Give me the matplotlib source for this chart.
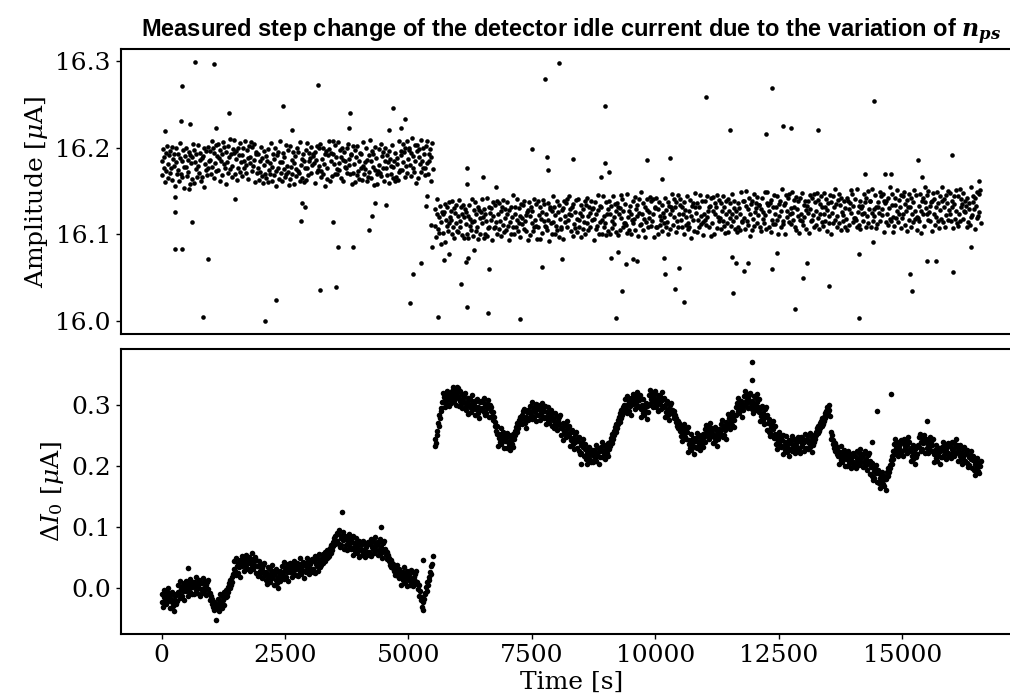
import numpy as np
import matplotlib.pyplot as plt

plt.rcParams['font.family'] = 'DejaVu Serif'
plt.rcParams['mathtext.fontset'] = 'dejavuserif'

# Sampling windows (s) before and after the n_ps step
T_BEFORE = (0, 5490)
T_AFTER = (5530, 16590)

# Pulse amplitude, in nA above 16 uA, one row = 12 consecutive samples
amp_before = [
    185, 168, 198, 177, 189, 160, 194, 173, 202, 165, 181, 191,
    171, 196, 176, 201, 163, 187, 179, 192, 156, 183, 199, 169,
    193, 174, 161, 188, 205, 170, 184, 166, 197, 178, 153, 190,
    178, 200, 167, 186, 172, 195, 158, 191, 182, 164, 189, 204,
    197, 159, 183, 192, 175, 166, 203, 179, 171, 194, 186, 162,
    166, 188, 190, 155, 199, 181, 174, 196, 168, 201, 177, 184,
    196, 186, 170, 207, 178, 199, 165, 194, 182, 203, 173, 190,
    174, 204, 188, 161, 197, 184, 192, 168, 206, 181, 201, 176,
    195, 158, 183, 202, 171, 189, 175, 210, 193, 166, 179, 198,
    209, 194, 169, 187, 196, 163, 200, 177, 191, 172, 205, 183,
    167, 191, 199, 176, 184, 208, 171, 180, 197, 188, 164, 202,
    189, 182, 206, 173, 201, 179, 186, 204, 160, 195, 193, 171,
    176, 193, 163, 184, 172, 201, 167, 188, 159, 196, 180, 170,
    190, 165, 185, 160, 198, 174, 182, 169, 205, 178, 162, 192,
    168, 187, 200, 173, 156, 191, 177, 195, 164, 183, 208, 171,
    183, 161, 194, 175, 189, 166, 203, 170, 179, 197, 172, 157,
    164, 202, 178, 169, 186, 195, 158, 182, 190, 167, 175, 199,
    195, 173, 171, 206, 162, 180, 187, 165, 193, 160, 184, 177,
    163, 197, 176, 205, 168, 184, 194, 188, 171, 201, 180, 192,
    190, 182, 195, 159, 186, 202, 172, 174, 199, 179, 204, 166,
    173, 187, 169, 200, 181, 156, 193, 196, 177, 164, 191, 208,
    198, 161, 194, 185, 167, 192, 207, 181, 203, 170, 189, 175,
    169, 206, 182, 174, 197, 189, 165, 200, 162, 186, 195, 178,
    184, 177, 199, 171, 204, 180, 187, 169, 191, 193, 158, 202,
    171, 181, 197, 160, 189, 168, 202, 173, 185, 164, 194, 177,
    193, 163, 179, 206, 170, 183, 175, 199, 161, 186, 166, 191,
    172, 209, 184, 165, 196, 178, 192, 157, 174, 201, 188, 169,
    158, 173, 198, 180, 171, 204, 167, 190, 176, 195, 162, 184,
    200, 176, 168, 191, 183, 159, 196, 187, 170, 179, 203, 165,
    178, 185, 161, 194, 166, 188, 181, 163, 207, 172, 174, 196,
    191, 174, 204, 183, 195, 166, 200, 179, 208, 171, 187, 197,
    199, 180, 167, 194, 211, 176, 190, 172, 203, 184, 159, 196,
    203, 165, 189, 198, 181, 172, 209, 185, 177, 200, 192, 168,
    177, 202, 182, 207, 169, 193, 185, 198, 162, 189, 205, 175,
]

amp_after = [
    129, 110, 97, 124, 141, 106, 120, 102, 133, 114, 89, 126,
    102, 124, 126, 91, 135, 117, 110, 132, 104, 137, 113, 120,
    127, 117, 101, 138, 109, 130, 96, 125, 113, 134, 104, 121,
    103, 140, 116, 108, 131, 123, 99, 134, 96, 120, 129, 112,
    126, 101, 121, 96, 134, 110, 118, 105, 141, 114, 98, 128,
    115, 137, 104, 123, 109, 132, 95, 128, 119, 101, 126, 141,
    113, 120, 96, 129, 101, 123, 116, 98, 142, 107, 109, 131,
    125, 117, 130, 94, 121, 137, 107, 109, 134, 114, 139, 101,
    123, 106, 136, 115, 127, 98, 132, 111, 140, 103, 119, 129,
    105, 124, 137, 110, 93, 128, 114, 132, 101, 120, 145, 108,
    100, 124, 132, 109, 117, 141, 104, 113, 130, 121, 97, 135,
    119, 112, 134, 106, 139, 115, 122, 104, 126, 128, 93, 137,
    121, 99, 132, 113, 127, 104, 141, 108, 117, 135, 110, 95,
    108, 138, 122, 95, 131, 118, 126, 102, 140, 115, 135, 110,
    109, 123, 105, 136, 117, 92, 129, 132, 113, 100, 127, 144,
    114, 131, 101, 122, 110, 139, 105, 126, 97, 134, 118, 108,
    106, 128, 130, 95, 139, 121, 114, 136, 108, 141, 117, 124,
    144, 129, 104, 122, 131, 98, 135, 112, 126, 107, 140, 118,
    103, 141, 117, 108, 125, 134, 97, 121, 129, 106, 114, 138,
    100, 134, 113, 142, 105, 121, 131, 125, 108, 138, 117, 129,
    130, 93, 118, 137, 106, 124, 110, 145, 128, 101, 114, 133,
    131, 101, 117, 144, 108, 121, 113, 137, 99, 124, 104, 129,
    138, 100, 124, 133, 116, 107, 144, 120, 112, 135, 127, 103,
    136, 99, 132, 123, 105, 130, 145, 119, 141, 108, 127, 113,
    135, 113, 111, 146, 102, 120, 127, 105, 133, 100, 124, 117,
    113, 138, 118, 143, 105, 129, 121, 134, 98, 125, 141, 111,
    112, 149, 124, 105, 136, 118, 132, 97, 114, 141, 128, 109,
    126, 119, 143, 110, 138, 116, 123, 141, 97, 132, 130, 108,
    142, 108, 129, 100, 137, 121, 111, 117, 134, 104, 125, 113,
    120, 142, 109, 128, 114, 137, 100, 133, 124, 106, 131, 146,
    128, 111, 141, 120, 132, 103, 137, 116, 145, 108, 124, 134,
    141, 117, 109, 132, 124, 100, 137, 128, 111, 120, 144, 106,
    113, 127, 109, 140, 121, 96, 133, 136, 117, 104, 131, 148,
    125, 103, 136, 117, 131, 108, 145, 112, 121, 139, 114, 99,
    124, 117, 139, 111, 144, 120, 127, 109, 131, 133, 98, 142,
    113, 143, 127, 100, 136, 123, 131, 107, 145, 120, 140, 115,
    119, 136, 106, 127, 115, 144, 110, 131, 102, 139, 123, 113,
    141, 103, 127, 136, 119, 110, 147, 123, 115, 138, 130, 106,
    120, 127, 103, 136, 108, 130, 123, 105, 149, 114, 116, 138,
    138, 119, 106, 133, 150, 115, 129, 111, 142, 123, 98, 135,
    105, 139, 118, 147, 110, 126, 136, 130, 113, 143, 122, 134,
    134, 109, 129, 104, 142, 118, 126, 113, 149, 122, 106, 136,
    149, 134, 109, 127, 136, 103, 140, 117, 131, 112, 145, 123,
    112, 131, 144, 117, 100, 135, 121, 139, 108, 127, 152, 115,
    112, 134, 136, 101, 145, 127, 120, 142, 114, 147, 123, 130,
    112, 149, 125, 117, 140, 132, 108, 143, 105, 129, 138, 121,
    102, 117, 142, 124, 115, 148, 111, 134, 120, 139, 106, 128,
    133, 125, 138, 102, 129, 145, 115, 117, 142, 122, 147, 109,
    137, 127, 111, 148, 119, 140, 106, 135, 123, 144, 114, 131,
    110, 148, 124, 115, 132, 141, 104, 128, 136, 113, 121, 145,
    137, 100, 125, 144, 113, 131, 117, 152, 135, 108, 121, 140,
    147, 113, 134, 105, 142, 126, 116, 122, 139, 109, 130, 118,
    142, 105, 138, 129, 111, 136, 151, 125, 147, 114, 133, 119,
    141, 119, 117, 152, 108, 126, 133, 111, 139, 106, 130, 123,
    133, 116, 146, 125, 137, 108, 142, 121, 150, 113, 129, 139,
    139, 109, 125, 152, 116, 129, 121, 145, 107, 132, 112, 137,
    132, 125, 149, 116, 144, 122, 129, 147, 103, 138, 136, 114,
    138, 124, 142, 111, 130, 155, 118, 115, 134, 147, 120, 103,
    110, 134, 142, 119, 127, 151, 114, 123, 140, 131, 107, 145,
    119, 144, 124, 149, 111, 135, 127, 140, 104, 131, 147, 117,
    131, 109, 142, 123, 137, 114, 151, 118, 127, 145, 120, 105,
    119, 133, 115, 146, 127, 102, 139, 142, 123, 110, 137, 154,
    130, 123, 145, 117, 150, 126, 133, 115, 137, 139, 104, 148,
    124, 141, 111, 132, 120, 149, 115, 136, 107, 144, 128, 118,
    154, 139, 114, 132, 141, 108, 145, 122, 136, 117, 150, 128,
    148, 124, 116, 139, 131, 107, 144, 135, 118, 127, 151, 113,
    110, 144, 123, 152, 115, 131, 141, 135, 118, 148, 127, 139,
    126, 133, 109, 142, 114, 136, 129, 111, 155, 120, 122, 144,
    137, 129, 142, 106, 133, 149, 119, 121, 146, 126, 151, 113,
]

# Isolated amplitude readings (time in s, nA above 16 uA)
amp_spike_t = [
    668, 1059, 411, 3160, 2457, 1370, 3814, 4691, 4928, 384, 573, 1106,
    3790, 2639, 4597, 4847, 61, 7758, 8042, 7500, 7810, 7818,
    269, 620, 265, 410, 932, 843, 2099, 2315, 3206, 3524, 2815, 3463,
    3571, 3868, 4192, 4260, 4327, 4537, 2850, 2897, 1491, 272, 560,
    5023, 5097, 5246, 5481, 5461, 5347, 5367, 5590, 5712, 5819, 6056,
    6184, 6163, 6204, 6332, 6603, 6637, 7251, 7703, 8102, 6190, 6177,
    6508, 6777,
    8973, 11025, 12368, 14434, 11517, 12246, 12591, 12753, 13287, 8325,
    9836, 10302, 15325, 16008, 8971, 9052, 8890, 10140, 16549, 14240,
    14650, 14772, 15408,
    9100, 9249, 9324, 9196, 9404, 9553, 9627, 10180, 10201, 10397,
    10485, 10573, 11565, 11558, 11639, 11795, 11883, 12368, 12470,
    12827, 12990, 13078, 13523, 14118, 14118, 14401, 15150, 15204,
    15507, 15676, 16040, 16386,
]
amp_spike_nA = [
    298, 296, 271, 272, 248, 240, 240, 246, 233, 230, 227, 222,
    223, 220, 220, 223, 219, 279, 297, 198, 189, 174,
    126, 114, 83, 83, 72, 5, 0, 25, 36, 40, 116, 114,
    85, 86, 105, 121, 136, 134, 136, 131, 141, 143, 152,
    21, 55, 67, 86, 111, 133, 144, 5, 70, 77, 43,
    16, 68, 73, 82, 10, 60, 3, 62, 72, 176, 158,
    166, 154,
    248, 258, 268, 254, 220, 215, 225, 222, 220, 187,
    186, 188, 186, 191, 182, 172, 166, 164, 162, 169,
    169, 169, 166,
    73, 80, 35, 4, 66, 72, 69, 73, 55, 37,
    61, 22, 32, 74, 67, 58, 67, 60, 79,
    14, 50, 67, 41, 4, 78, 91, 54, 35,
    69, 69, 57, 85,
]

# Idle current change dI0 in nA, same sampling as the amplitude rows
di_before = [
    -23, -10, -30, -3, -15, -19, -6, -26, -12, 1, -21, -8,
    -16, -32, -10, -23, -6, -29, -19, -37, -12, -25, -9, -21,
    -6, 6, -10, 12, -16, -1, -13, 3, -4, 9, -19, 1,
    12, -4, 5, -12, 9, 0, 15, -6, 7, -9, 2, 11,
    -10, 3, 10, -3, 19, -7, 6, 0, 13, -13, 8, -2,
    8, -8, 16, 1, -5, 12, -11, 5, 10, -2, 14, -7,
    -8, -20, -12, -26, -18, -30, -22, -35, -28, -52, -25, -33,
    -30, -17, -37, -10, -22, -26, -13, -33, -19, -6, -28, -15,
    -15, -3, -12, 2, -6, 8, 0, 14, 5, 19, 10, 24,
    32, 44, 28, 50, 22, 37, 25, 41, 34, 47, 19, 39,
    52, 36, 45, 28, 49, 40, 55, 34, 47, 31, 42, 51,
    28, 41, 48, 35, 57, 31, 44, 38, 51, 25, 46, 36,
    36, 20, 44, 29, 23, 40, 17, 33, 38, 26, 42, 21,
    14, 27, 7, 34, 22, 18, 31, 11, 25, 38, 16, 29,
    21, 5, 27, 14, 31, 8, 18, 0, 25, 12, 28, 16,
    25, 37, 21, 43, 15, 30, 18, 34, 27, 40, 12, 32,
    42, 26, 35, 18, 39, 30, 45, 24, 37, 21, 32, 41,
    20, 33, 40, 27, 49, 23, 36, 30, 43, 17, 38, 28,
    42, 26, 50, 35, 29, 46, 23, 39, 44, 32, 48, 27,
    32, 45, 25, 52, 40, 36, 49, 29, 43, 56, 34, 47,
    38, 50, 42, 56, 47, 60, 44, 53, 49, 62, 51, 58,
    52, 66, 58, 71, 62, 75, 69, 82, 73, 86, 78, 90,
    77, 89, 73, 95, 67, 82, 70, 86, 79, 92, 64, 84,
    86, 70, 79, 62, 83, 74, 89, 68, 81, 65, 76, 85,
    54, 67, 74, 61, 83, 57, 70, 64, 77, 51, 72, 62,
    70, 54, 78, 63, 57, 74, 51, 67, 72, 60, 76, 55,
    60, 73, 53, 80, 68, 64, 77, 57, 71, 84, 62, 75,
    70, 54, 76, 63, 80, 57, 67, 49, 74, 61, 77, 65,
    62, 54, 60, 48, 55, 44, 50, 38, 46, 35, 42, 33,
    40, 28, 35, 22, 33, 26, 38, 20, 31, 17, 29, 24,
    6, 19, 26, 13, 35, 9, 22, 16, 29, 3, 24, 14,
    22, 6, 30, 15, 9, 26, 3, 19, 24, 12, 28, 7,
    10, -2, 5, -12, -5, -20, -14, -30, -22, -35, -18, -8,
    -10, 2, -4, 10, 6, 18, 14, 26, 24, 36, 40, 52,
]

di_after = [
    232, 245, 238, 258, 250, 270, 265, 283, 278, 295, 290, 305,
    320, 304, 313, 296, 317, 308, 323, 302, 315, 299, 310, 319,
    303, 316, 323, 310, 330, 306, 319, 313, 326, 300, 321, 311,
    314, 298, 322, 307, 301, 318, 295, 311, 316, 304, 320, 299,
    292, 305, 285, 312, 300, 296, 309, 289, 303, 316, 294, 307,
    300, 284, 306, 293, 310, 287, 297, 279, 304, 291, 307, 295,
    293, 305, 289, 311, 283, 298, 286, 302, 295, 308, 280, 300,
    300, 290, 296, 282, 288, 275, 280, 266, 272, 258, 265, 252,
    233, 246, 253, 240, 262, 236, 249, 243, 256, 230, 251, 241,
    246, 230, 254, 239, 233, 250, 227, 243, 248, 236, 252, 231,
    244, 258, 250, 264, 256, 270, 262, 275, 268, 281, 272, 278,
    284, 268, 290, 277, 294, 271, 281, 263, 288, 275, 291, 279,
    287, 299, 283, 305, 277, 292, 280, 296, 289, 302, 274, 294,
    300, 284, 293, 276, 297, 288, 303, 282, 295, 279, 290, 299,
    268, 281, 288, 275, 297, 271, 284, 278, 291, 265, 286, 276,
    278, 262, 286, 271, 265, 282, 259, 275, 280, 268, 284, 263,
    250, 263, 243, 270, 258, 254, 267, 247, 261, 274, 252, 265,
    249, 233, 255, 242, 259, 236, 246, 228, 253, 240, 256, 244,
    229, 241, 225, 247, 219, 234, 222, 238, 231, 244, 216, 236,
    228, 212, 221, 204, 225, 216, 231, 210, 223, 207, 218, 227,
    206, 219, 226, 213, 235, 209, 222, 216, 229, 203, 224, 214,
    231, 215, 239, 224, 218, 235, 212, 228, 233, 221, 237, 216,
    228, 240, 233, 246, 238, 252, 245, 258, 250, 264, 256, 268,
    262, 275, 268, 280, 272, 286, 279, 292, 284, 296, 288, 300,
    297, 309, 293, 315, 287, 302, 290, 306, 299, 312, 284, 304,
    318, 302, 311, 294, 315, 306, 321, 300, 313, 297, 308, 317,
    280, 293, 300, 287, 309, 283, 296, 290, 303, 277, 298, 288,
    316, 300, 324, 309, 303, 320, 297, 313, 318, 306, 322, 301,
    297, 310, 290, 317, 305, 301, 314, 294, 308, 321, 299, 312,
    296, 280, 302, 289, 306, 283, 293, 275, 300, 287, 303, 291,
    292, 285, 290, 278, 284, 272, 279, 266, 274, 262, 270, 258,
    265, 249, 258, 241, 262, 253, 268, 247, 260, 244, 255, 264,
    223, 236, 243, 230, 252, 226, 239, 233, 246, 220, 241, 231,
    246, 230, 254, 239, 233, 250, 227, 243, 248, 236, 252, 231,
    247, 260, 240, 267, 255, 251, 264, 244, 258, 271, 249, 262,
    254, 238, 260, 247, 264, 241, 251, 233, 258, 245, 261, 249,
    257, 269, 253, 275, 247, 262, 250, 266, 259, 272, 244, 264,
    285, 269, 278, 261, 282, 273, 288, 267, 280, 264, 275, 284,
    283, 296, 303, 290, 312, 286, 299, 293, 306, 280, 301, 291,
    314, 298, 322, 307, 301, 318, 295, 311, 316, 304, 320, 299,
    294, 307, 287, 314, 302, 298, 311, 291, 305, 318, 296, 309,
    289, 273, 295, 282, 299, 276, 286, 268, 293, 280, 296, 284,
    259, 271, 255, 277, 249, 264, 252, 268, 261, 274, 246, 266,
    252, 236, 245, 228, 249, 240, 255, 234, 247, 231, 242, 251,
    220, 233, 240, 227, 249, 223, 236, 230, 243, 217, 238, 228,
    241, 225, 249, 234, 228, 245, 222, 238, 243, 231, 247, 226,
    228, 241, 221, 248, 236, 232, 245, 225, 239, 252, 230, 243,
    244, 228, 250, 237, 254, 231, 241, 223, 248, 235, 251, 239,
    245, 256, 250, 262, 254, 266, 258, 270, 262, 274, 266, 278,
    268, 280, 274, 286, 279, 290, 284, 296, 288, 300, 292, 282,
    255, 245, 250, 236, 242, 230, 238, 224, 232, 220, 228, 216,
    203, 216, 223, 210, 232, 206, 219, 213, 226, 200, 221, 211,
    216, 200, 224, 209, 203, 220, 197, 213, 218, 206, 222, 201,
    204, 217, 197, 224, 212, 208, 221, 201, 215, 228, 206, 219,
    214, 198, 220, 207, 224, 201, 211, 193, 218, 205, 221, 209,
    187, 199, 183, 205, 177, 192, 180, 196, 189, 202, 174, 194,
    188, 172, 181, 164, 185, 176, 191, 170, 183, 167, 178, 160,
    178, 190, 184, 196, 190, 202, 197, 210, 204, 216, 212, 225,
    236, 220, 244, 229, 223, 240, 217, 233, 238, 226, 242, 221,
    224, 237, 217, 244, 232, 228, 241, 221, 235, 248, 226, 239,
    224, 208, 230, 217, 234, 211, 221, 203, 228, 215, 231, 219,
    235, 247, 231, 253, 225, 240, 228, 244, 237, 250, 222, 242,
    245, 229, 238, 221, 242, 233, 248, 227, 240, 224, 235, 244,
    206, 219, 226, 213, 235, 209, 222, 216, 229, 203, 224, 214,
    231, 215, 239, 224, 218, 235, 212, 228, 233, 221, 237, 216,
    220, 233, 213, 240, 228, 224, 237, 217, 231, 244, 222, 235,
    224, 208, 230, 217, 234, 211, 221, 203, 228, 215, 231, 219,
    209, 221, 205, 227, 199, 214, 202, 218, 211, 224, 196, 216,
    210, 194, 203, 186, 207, 198, 213, 192, 205, 189, 200, 209,
]

di_spike_t = [526, 3658, 4442, 5299, 5990, 6010, 11950, 11950,
              14772, 14495, 14387, 15501, 8487]
di_spike_nA = [33, 125, 100, 46, 330, 328, 370, 340,
               318, 290, 240, 274, 203]

t_before = np.linspace(*T_BEFORE, len(amp_before))
t_after = np.linspace(*T_AFTER, len(amp_after))
t_all = np.concatenate([t_before, t_after, amp_spike_t])
amp = 16.0 + np.concatenate([amp_before, amp_after, amp_spike_nA]) / 1000.0

t_di = np.concatenate([np.linspace(*T_BEFORE, len(di_before)),
                       np.linspace(*T_AFTER, len(di_after)), di_spike_t])
di = np.concatenate([di_before, di_after, di_spike_nA]) / 1000.0

fig = plt.figure(figsize=(10.10, 6.99), dpi=100)
ax1 = fig.add_axes([0.1195, 0.5217, 0.892, 0.4077])
ax2 = fig.add_axes([0.1195, 0.0926, 0.892, 0.4077])

ax1.plot(t_all, amp, 'o', color='k', ms=3.3, mew=0)
ax2.plot(t_di, di, 'o', color='k', ms=4.0, mew=0)

for ax in (ax1, ax2):
    ax.set_xlim(-830, 17420)
    ax.tick_params(labelsize=18, width=1.0, length=3.5)
    for sp in ax.spines.values():
        sp.set_linewidth(1.5)

ax1.set_ylim(15.985, 16.313)
ax1.set_yticks([16.0, 16.1, 16.2, 16.3])
ax1.tick_params(axis='x', bottom=False, labelbottom=False)
ax1.set_ylabel(r'Amplitude [$\mu$A]', fontsize=18)

ax2.set_ylim(-0.0753, 0.391)
ax2.set_yticks([0.0, 0.1, 0.2, 0.3])
ax2.set_xticks([0, 2500, 5000, 7500, 10000, 12500, 15000])
ax2.set_ylabel(r'$\Delta I_0$ [$\mu$A]', fontsize=18)
ax2.set_xlabel('Time [s]', fontsize=18, labelpad=3)

ax1.set_title(r'Measured step change of the detector idle current due to the variation of $\mathbfit{n}_{\mathbfit{ps}}$',
              fontfamily='Liberation Sans', fontweight='bold', fontsize=17, pad=9)

fig.savefig('out.png', dpi=100)
